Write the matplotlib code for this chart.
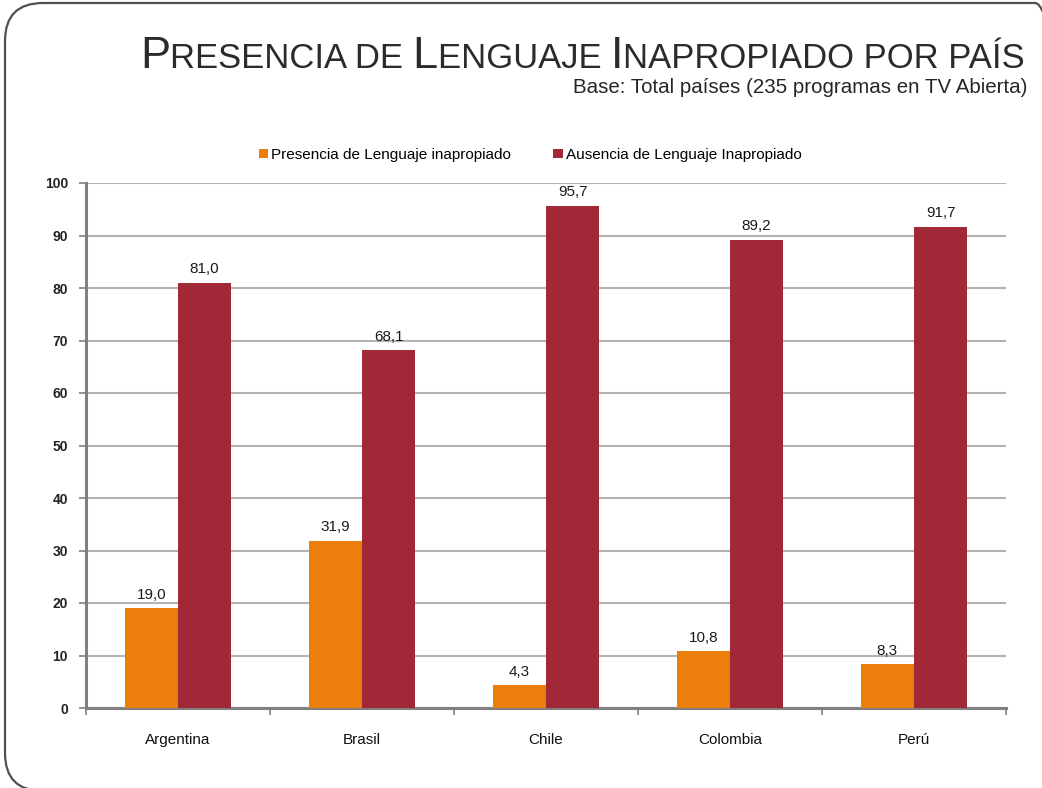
import matplotlib
matplotlib.use("Agg")
import matplotlib.pyplot as plt
import numpy as np
from matplotlib.patches import FancyBboxPatch
from matplotlib.transforms import IdentityTransform

paises = ["Argentina", "Brasil", "Chile", "Colombia", "Perú"]
presencia = [19.0, 31.9, 4.3, 10.8, 8.3]
ausencia = [81.0, 68.1, 95.7, 89.2, 91.7]
series_names = ["Presencia de Lenguaje inapropiado", "Ausencia de Lenguaje Inapropiado"]
yticks = list(range(0, 101, 10))

ORANGE = "#EE7E0B"
RED = "#A12837"
GRID = "#B3B3B3"
AXIS = "#808080"

W, H = 1042, 788
fig = plt.figure(figsize=(W / 100, H / 100), dpi=100)
plt.rcParams["font.family"] = ["Liberation Sans", "DejaVu Sans"]

# slide frame (display coords, y up); right side runs just off the page
frame = FancyBboxPatch((5, -3), 1068, H - 3 + 3, boxstyle="round,pad=0,rounding_size=38",
                       transform=IdentityTransform(), fill=False,
                       edgecolor="#505050", lw=1.6)
fig.patches.append(frame)

ax = fig.add_axes([86 / W, 1 - 708 / H, (1006 - 86) / W, (708 - 183) / H])
x = np.arange(len(paises))
bw = 0.29
b1 = ax.bar(x - bw / 2, presencia, bw, color=ORANGE, label=series_names[0], zorder=3)
b2 = ax.bar(x + bw / 2, ausencia, bw, color=RED, label=series_names[1], zorder=3)

for bars, vals in ((b1, presencia), (b2, ausencia)):
    for r, v in zip(bars, vals):
        ax.text(r.get_x() + r.get_width() / 2, v + 1.2, f"{v:.1f}".replace(".", ","),
                ha="center", va="bottom", fontsize=11, color="#1a1a1a")

ax.set_xlim(-0.5, len(paises) - 0.5)
ax.set_ylim(0, 100)
ax.set_yticks(yticks)
ax.set_yticklabels([str(t) for t in yticks], fontsize=10, fontweight="bold", color="#222222")
ax.yaxis.grid(True, color=GRID, lw=1.5, zorder=0)
ax.set_axisbelow(True)

ax.set_xticks(np.arange(len(paises) + 1) - 0.5)
ax.set_xticklabels([])
ax.set_xticks(x, minor=True)
ax.set_xticklabels(paises, minor=True, fontsize=11, color="#111111")
ax.tick_params(axis="x", which="minor", length=0, pad=18)
ax.tick_params(axis="x", which="major", length=5, color=AXIS, width=1.2)
ax.tick_params(axis="y", length=5, color=AXIS, width=1.2, pad=8)

for s in ("top", "right"):
    ax.spines[s].set_visible(False)
for s in ("left", "bottom"):
    ax.spines[s].set_color(AXIS)
    ax.spines[s].set_linewidth(2.2)

fig.legend(handles=[b1, b2], loc="center", bbox_to_anchor=(530 / W, 1 - 155 / H),
           ncol=2, frameon=False, fontsize=11, handlelength=0.6, handleheight=0.6,
           handletextpad=0.2, columnspacing=2.8)

# small-caps title, laid out piece by piece and right aligned
pieces = [("P", 32.5), ("RESENCIA DE ", 24.9), ("L", 32.5), ("ENGUAJE ", 24.9),
          ("I", 32.5), ("NAPROPIADO POR PAÍS", 24.9)]
fig.canvas.draw()
renderer = fig.canvas.get_renderer()
texts = []
xpos = 0
for s, size in pieces:
    t = fig.text(xpos, H - 68, s, fontsize=size, color="#2b2b2b",
                 ha="left", va="baseline", transform=IdentityTransform())
    xpos += t.get_window_extent(renderer).width
    texts.append(t)
shift = 1025 - xpos
for t in texts:
    px, py = t.get_position()
    t.set_position((px + shift, py))

fig.text(1027 / W, 1 - 93 / H, "Base: Total países (235 programas en TV Abierta)",
         ha="right", va="baseline", fontsize=14.8, color="#262626")

fig.savefig("out.png", dpi=100)
